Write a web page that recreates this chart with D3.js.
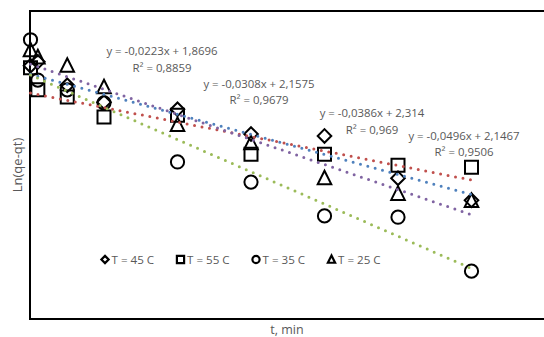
<!DOCTYPE html>
<html>
<head>
<meta charset="utf-8">
<script src="https://cdn.jsdelivr.net/npm/d3@7/dist/d3.min.js"></script>
<style>
  html, body { margin: 0; padding: 0; background: #fff; }
  svg { display: block; }
  text { font-family: "Open Sans", "Liberation Sans", sans-serif; }
</style>
</head>
<body>
<svg id="chart" width="544" height="337"></svg>
<script>
// Sampling times, min
const times = [0, 1, 5, 10, 20, 30, 40, 50, 60];

// Series names (legend order)
const seriesNames = ["T = 45 C", "T = 55 C", "T = 35 C", "T = 25 C"];

// Ln(qe-qt) for each temperature
const lnT45 = [2.29, 2.35, 1.99, 1.73, 1.62, 1.24, 1.21, 0.56, 0.22];
const lnT55 = [2.26, 1.92, 1.81, 1.50, 1.53, 0.93, 0.93, 0.76, 0.73];
const lnT35 = [2.69, 2.07, 1.92, 1.72, 0.81, 0.50, -0.02, -0.04, -0.87];
const lnT25 = [2.53, 2.42, 2.29, 1.96, 1.38, 1.10, 0.56, 0.32, 0.21];

// Linear trendline coefficients and R² for each series
const slopes = [-0.0308, -0.0223, -0.0496, -0.0386];
const intercepts = [2.1575, 1.8696, 2.1467, 2.314];
const rSquared = [0.9679, 0.8859, 0.9506, 0.969];

// Styling
const markerKinds = ["diamond", "square", "circle", "triangle"];
const trendColors = ["#4F81BD", "#C0504D", "#9BBB59", "#8064A2"];
// Equation label anchor (center x, baseline y of first line)
const eqPos = [[259, 87.5], [162, 55], [464, 139.5], [372, 117]];

const svg = d3.select("#chart");
const plot = { left: 30, top: 11, right: 549, bottom: 319 };

const x = d3.scaleLinear().domain([0, 70]).range([30.5, 545]);
const y = d3.scaleLinear().domain([-1.606, 3.132]).range([plot.bottom, plot.top]);

const seriesValues = [lnT45, lnT55, lnT35, lnT25];

function markerPath(kind, r) {
  const p = d3.path();
  if (kind === "square") {
    p.rect(-r, -r, 2 * r, 2 * r);
  } else if (kind === "circle") {
    p.moveTo(r, 0); p.arc(0, 0, r, 0, 2 * Math.PI);
  } else if (kind === "diamond") {
    p.moveTo(0, -r); p.lineTo(r, 0); p.lineTo(0, r); p.lineTo(-r, 0); p.closePath();
  } else {
    p.moveTo(0, -r * 1.1); p.lineTo(r, r * 0.9); p.lineTo(-r, r * 0.9); p.closePath();
  }
  return p.toString();
}
const markerR = { square: 6.5, circle: 6.6, diamond: 6.8, triangle: 6.8 };

// Plot area frame
svg.append("rect")
  .attr("x", plot.left).attr("y", plot.top)
  .attr("width", plot.right - plot.left).attr("height", plot.bottom - plot.top)
  .attr("fill", "none").attr("stroke", "#000").attr("stroke-width", 2);

// Data markers
seriesValues.forEach((vals, i) => {
  svg.append("g").selectAll("path")
    .data(vals.map((v, j) => [times[j], v]))
    .join("path")
    .attr("transform", d => `translate(${x(d[0])},${y(d[1])})`)
    .attr("d", markerPath(markerKinds[i], markerR[markerKinds[i]]))
    .attr("fill", "none")
    .attr("stroke", "#000")
    .attr("stroke-width", 2);
});

// Dotted linear trendlines over the sampled range
const tMin = d3.min(times), tMax = d3.max(times);
const line = d3.line().x(d => x(d[0])).y(d => y(d[1]));
slopes.forEach((m, i) => {
  const b = intercepts[i];
  svg.append("path")
    .attr("d", line([[tMin, b + m * tMin], [tMax, b + m * tMax]]))
    .attr("fill", "none")
    .attr("stroke", trendColors[i])
    .attr("stroke-width", 3)
    .attr("stroke-linecap", "round")
    .attr("stroke-dasharray", "0 7.6");
});

// Trendline equations
const fmt = v => String(v).replace(".", ",");
slopes.forEach((m, i) => {
  const [cx, by] = eqPos[i];
  const sign = intercepts[i] >= 0 ? "+" : "-";
  const g = svg.append("g").attr("fill", "#595959").attr("font-size", 11.4).attr("text-anchor", "middle");
  g.append("text").attr("x", cx).attr("y", by)
    .text(`y = ${fmt(m)}x ${sign} ${fmt(Math.abs(intercepts[i]))}`);
  g.append("text").attr("x", cx).attr("y", by + 16.5)
    .text(`R² = ${fmt(rSquared[i])}`);
});

// Legend
const legendX = [105, 180.5, 256, 331.5];
const legendY = 259.5;
const lg = svg.append("g");
seriesNames.forEach((name, i) => {
  lg.append("path")
    .attr("transform", `translate(${legendX[i]},${legendY})`)
    .attr("d", markerPath(markerKinds[i], 3.6))
    .attr("fill", "none").attr("stroke", "#000").attr("stroke-width", 2.2);
  lg.append("text")
    .attr("x", legendX[i] + 6.5).attr("y", legendY + 4.2)
    .attr("font-size", 11.6).attr("fill", "#595959")
    .text(name);
});

// Axis titles
svg.append("text")
  .attr("transform", `translate(${22},${(plot.top + plot.bottom) / 2}) rotate(-90)`)
  .attr("text-anchor", "middle").attr("font-size", 13).attr("fill", "#595959")
  .text("Ln(qe-qt)");
svg.append("text")
  .attr("x", 287).attr("y", 333.5)
  .attr("text-anchor", "middle").attr("font-size", 12.5).attr("fill", "#595959")
  .text("t, min");
</script>
</body>
</html>
